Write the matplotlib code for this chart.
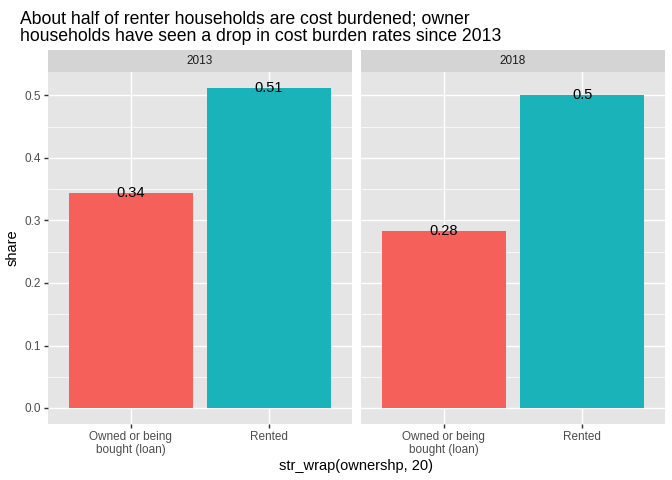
import matplotlib.pyplot as plt
from matplotlib.ticker import MultipleLocator

plt.rcParams['font.family'] = ['Liberation Sans', 'DejaVu Sans']

# data
years = ['2013', '2018']
ownership = ['Owned or being\nbought (loan)', 'Rented']
share_2013 = [0.344, 0.512]
share_2018 = [0.283, 0.501]
labels_2013 = ['0.34', '0.51']
labels_2018 = ['0.28', '0.5']
colors = ['#F5605B', '#1AB3B9']

shares = [share_2013, share_2018]
labels = [labels_2013, labels_2018]

fig = plt.figure(figsize=(7, 5), dpi=96)
W, H = 672, 480
panel_x = [(48, 352), (361, 665)]
top, bottom = 72, 424
strip_h = 22

ymax = max(max(s) for s in shares)
pad = ymax * 0.05
axes = []
for i, (x0, x1) in enumerate(panel_x):
    ax = fig.add_axes([x0 / W, 1 - bottom / H, (x1 - x0) / W, (bottom - top) / H])
    ax.set_facecolor('#E5E5E5')
    xs = list(range(1, len(ownership) + 1))
    ax.bar(xs, shares[i], width=0.9, color=colors, zorder=3)
    for x, v, lab in zip(xs, shares[i], labels[i]):
        ax.text(x, v, lab, ha='center', va='center', fontsize=11, color='black', zorder=4)
    ax.set_xlim(0.4, 2.6)
    ax.set_ylim(-pad, ymax + pad)
    ax.yaxis.set_major_locator(MultipleLocator(0.1))
    ax.yaxis.set_minor_locator(MultipleLocator(0.05))
    ax.set_xticks(xs)
    ax.set_xticklabels(ownership, fontsize=8.8, color='#4D4D4D', linespacing=1.1)
    ax.grid(which='major', color='white', linewidth=1.07, zorder=1)
    ax.grid(which='minor', axis='y', color='white', linewidth=0.53, zorder=1)
    ax.tick_params(which='major', length=2.75, width=1.07, color='#333333', pad=2.5)
    ax.tick_params(which='minor', length=0)
    for s in ax.spines.values():
        s.set_visible(False)
    if i == 0:
        ax.set_yticks([0.0, 0.1, 0.2, 0.3, 0.4, 0.5])
        ax.set_yticklabels(['0.0', '0.1', '0.2', '0.3', '0.4', '0.5'],
                           fontsize=8.8, color='#4D4D4D')
        ax.set_ylabel('share', fontsize=11, labelpad=4)
    else:
        ax.tick_params(axis='y', which='both', left=False, labelleft=False)
    # facet strip
    sax = fig.add_axes([x0 / W, 1 - top / H, (x1 - x0) / W, strip_h / H])
    sax.set_facecolor('#D4D4D4')
    sax.set_xticks([])
    sax.set_yticks([])
    for s in sax.spines.values():
        s.set_visible(False)
    sax.text(0.5, 0.5, years[i], ha='center', va='center', fontsize=8.8,
             color='#1A1A1A', transform=sax.transAxes)
    axes.append(ax)

fig.text((48 + 665) / 2 / W, 1 - 466 / H, 'str_wrap(ownershp, 20)',
         ha='center', va='center', fontsize=11)
fig.text(20 / W, 1 - 10 / H,
         'About half of renter households are cost burdened; owner\n'
         'households have seen a drop in cost burden rates since 2013',
         ha='left', va='top', fontsize=13.2, linespacing=1.05)

fig.savefig('out.png', dpi=96)
